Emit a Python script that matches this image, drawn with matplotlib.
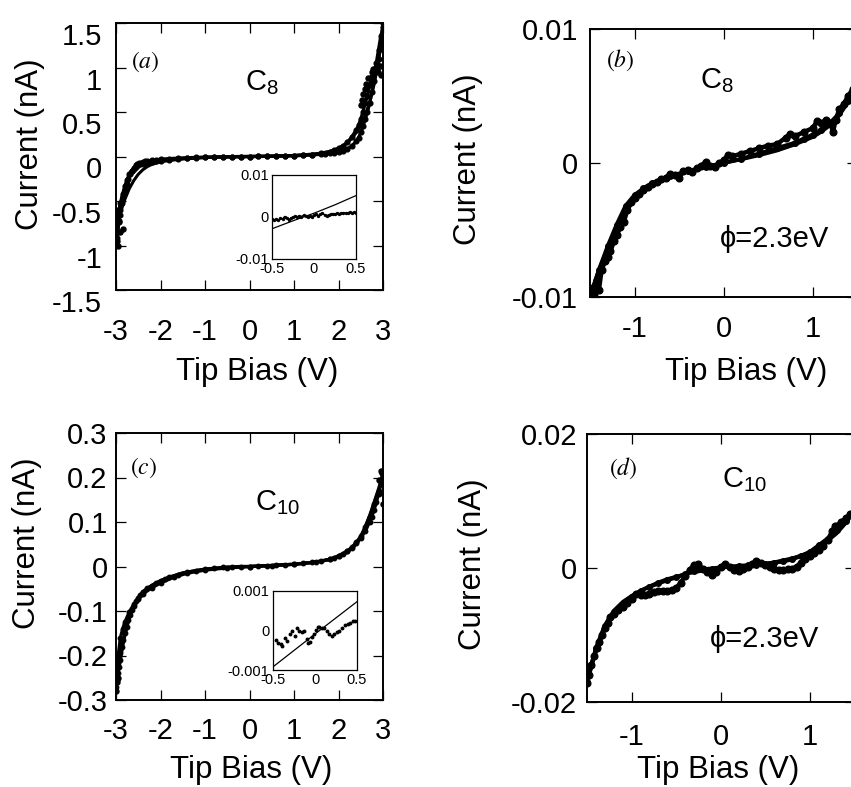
import matplotlib
matplotlib.use("Agg")
import matplotlib.pyplot as plt
import numpy as np

plt.rcParams['font.family'] = ['Liberation Sans', 'DejaVu Sans']
plt.rcParams['axes.unicode_minus'] = False
plt.rcParams['mathtext.fontset'] = 'custom'
plt.rcParams['mathtext.rm'] = 'Liberation Sans'
plt.rcParams['mathtext.it'] = 'Liberation Sans:italic'

# ---------------- data ----------------
# Panel (a): C8, full range, current in nA
a_fit_x = [-3.0, -2.95, -2.9, -2.8, -2.7, -2.6, -2.5, -2.4, -2.3, -2.2, -2.0, -1.8, -1.5, -1.0, -0.5,
           0.0, 0.5, 1.0, 1.5, 1.8, 2.0, 2.1, 2.2, 2.3, 2.4, 2.5, 2.6, 2.7, 2.8, 2.9, 3.0]
a_fit_y = [-0.86, -0.72, -0.63, -0.48, -0.36, -0.27, -0.2, -0.15, -0.115, -0.09, -0.06, -0.045, -0.028,
           -0.012, -0.004, 0.0, 0.004, 0.012, 0.03, 0.055, 0.085, 0.115, 0.155, 0.205, 0.27, 0.35, 0.46,
           0.61, 0.81, 1.07, 1.45]
a_d1_x = [-3.0, -2.98, -2.96, -2.94, -2.92, -2.9, -2.87, -2.84, -2.8, -2.76, -2.72, -2.68, -2.64, -2.6,
          -2.56, -2.52, -2.48, -2.44, -2.4, -2.35, -2.3, -2.2, -2.1, -2.0, -1.8, -1.6, -1.4, -1.2, -1.0,
          -0.8, -0.6, -0.4, -0.2, 0.0, 0.2, 0.4, 0.6, 0.8, 1.0, 1.2, 1.4, 1.6, 1.7, 1.8, 1.9, 2.0, 2.1,
          2.2, 2.3, 2.4, 2.45, 2.5, 2.55, 2.6, 2.65, 2.7, 2.75, 2.8, 2.85, 2.9, 2.95, 3.0]
a_d1_y = [-0.78, -0.92, -0.85, -0.74, -0.66, -0.6, -0.52, -0.45, -0.38, -0.31, -0.25, -0.2, -0.16, -0.13,
          -0.1, -0.085, -0.075, -0.068, -0.062, -0.055, -0.05, -0.042, -0.036, -0.031, -0.024, -0.019,
          -0.014, -0.011, -0.008, -0.006, -0.004, -0.002, -0.001, 0.0, 0.001, 0.003, 0.005, 0.007, 0.01,
          0.013, 0.018, 0.025, 0.03, 0.036, 0.043, 0.05, 0.065, 0.085, 0.12, 0.17, 0.21, 0.27, 0.34,
          0.42, 0.5, 0.6, 0.72, 0.85, 0.98, 1.1, 1.25, 1.5]
a_d2_x = [3.0, 2.95, 2.9, 2.85, 2.8, 2.75, 2.7, 2.65, 2.6, 2.55, 2.5, 2.45, 2.4, 2.3, 2.2, 2.1, 2.0, 1.9,
          1.8, 1.6, 1.4, 1.2, 1.0, 0.8, 0.6, 0.4, 0.2, 0.0, -0.2, -0.4, -0.6, -0.8, -1.0, -1.2, -1.4,
          -1.6, -1.8, -2.0, -2.1, -2.2, -2.3, -2.4, -2.45, -2.5, -2.55, -2.6, -2.65, -2.7, -2.75, -2.8,
          -2.85, -2.9, -2.95, -3.0]
a_d2_y = [1.45, 1.35, 1.2, 1.05, 0.95, 0.9, 0.8, 0.68, 0.6, 0.5, 0.42, 0.35, 0.3, 0.22, 0.16, 0.12,
          0.095, 0.07, 0.055, 0.035, 0.022, 0.014, 0.009, 0.006, 0.004, 0.002, 0.001, 0.0, -0.001, -0.003,
          -0.005, -0.007, -0.01, -0.014, -0.019, -0.026, -0.034, -0.045, -0.052, -0.06, -0.07, -0.08,
          -0.085, -0.1, -0.12, -0.14, -0.16, -0.2, -0.26, -0.33, -0.42, -0.52, -0.64, -0.8]
a_sc_x = [-2.99, -2.97, -2.96, -2.93, -2.9, -2.84, 2.5, 2.53, 2.56, 2.59, 2.62, 2.66, 2.75, 2.78, 2.85,
          2.88, 2.9, 2.93, 2.95, 2.97, 2.99]
a_sc_y = [-0.6, -0.95, -1.0, -0.72, -0.85, -0.82, 0.58, 0.64, 0.7, 0.76, 0.82, 0.88, 0.95, 0.98, 1.0,
          0.95, 1.02, 1.02, 0.92, 1.25, 1.3]

# Inset of (a): low bias, current in pA
ia_x = [-0.5, -0.475, -0.45, -0.425, -0.4, -0.375, -0.35, -0.325, -0.3, -0.275, -0.25, -0.225, -0.2,
        -0.175, -0.15, -0.125, -0.1, -0.075, -0.05, -0.025, 0.0, 0.025, 0.05, 0.075, 0.1, 0.125, 0.15,
        0.175, 0.2, 0.225, 0.25, 0.275, 0.3, 0.325, 0.35, 0.375, 0.4, 0.425, 0.45, 0.475, 0.5]
ia_y_pA = [-0.4, -0.7, -0.5, -0.8, -0.3, -0.5, 0.1, -0.2, -0.6, -0.3, 0.0, 0.2, 0.0, 0.3, 0.1, 0.4, 0.2,
           0.0, 0.3, 0.1, 0.4, 0.7, 0.3, 0.6, 0.9, 0.5, 0.3, 0.5, 0.7, 0.8, 0.7, 0.9, 0.8, 0.9, 1.0,
           0.9, 1.0, 1.1, 1.0, 1.1, 1.0]
ia_fit_x = [-0.5, -0.25, 0.0, 0.25, 0.5]
ia_fit_y_pA = [-2.8, -0.9, 0.9, 2.9, 5.1]

# Panel (b): C8, +-1.5 V, current in pA
b_fit_x = [-1.5, -1.4, -1.3, -1.2, -1.1, -1.0, -0.9, -0.8, -0.6, -0.4, -0.2, 0.0, 0.2, 0.4, 0.6, 0.8,
           1.0, 1.1, 1.2, 1.3, 1.4, 1.5]
b_fit_y_pA = [-9.9, -7.9, -6.3, -4.9, -3.7, -2.8, -2.2, -1.7, -1.1, -0.6, -0.25, 0.0, 0.25, 0.55, 0.9,
              1.35, 1.9, 2.3, 2.8, 3.5, 4.5, 5.8]
b_d1_x = [-1.50, -1.47, -1.45, -1.42, -1.40, -1.37, -1.33, -1.30, -1.27, -1.23, -1.20, -1.16, -1.12,
          -1.08, -1.04, -1.00, -0.95, -0.90, -0.85, -0.80, -0.75, -0.70, -0.65, -0.60, -0.55, -0.50,
          -0.45, -0.40, -0.35, -0.30, -0.25, -0.20, -0.15, -0.10, -0.05, 0.00, 0.05, 0.10, 0.20, 0.30,
          0.40, 0.50, 0.60, 0.70, 0.75, 0.80, 0.90, 1.00, 1.05, 1.10, 1.15, 1.20, 1.23, 1.26, 1.30,
          1.35, 1.40, 1.45, 1.50]
b_d1_y_pA = [-9.9, -9.3, -9.8, -8.7, -9.5, -8.0, -7.3, -7.0, -6.6, -5.8, -5.4, -4.8, -4.4, -3.5, -2.9,
             -2.6, -2.3, -2.0, -1.8, -1.6, -1.4, -1.2, -1.1, -0.8, -0.9, -1.1, -0.6, -0.5, -0.7, -0.4,
             -0.2, 0.1, -0.2, -0.3, 0.0, 0.2, 0.6, 0.5, 0.7, 0.9, 1.1, 1.3, 1.4, 1.9, 2.2, 2.0, 2.3,
             2.6, 3.1, 3.0, 3.2, 3.0, 2.3, 3.2, 4.0, 4.4, 5.0, 5.5, 6.0]
b_d2_x = [1.50, 1.40, 1.30, 1.20, 1.10, 1.00, 0.90, 0.80, 0.60, 0.40, 0.20, 0.00, -0.20, -0.40, -0.60,
          -0.80, -0.90, -1.00, -1.10, -1.20, -1.30, -1.40, -1.46, -1.50]
b_d2_y_pA = [5.6, 4.6, 3.7, 3.0, 2.5, 2.1, 1.8, 1.5, 1.1, 0.7, 0.3, 0.0, -0.3, -0.6, -1.0, -1.5, -1.9,
             -2.4, -3.2, -4.6, -6.2, -8.0, -9.2, -10.0]

# Panel (c): C10, full range, current in nA
c_fit_x = [-3.0, -2.95, -2.9, -2.85, -2.8, -2.7, -2.6, -2.5, -2.4, -2.2, -2.0, -1.8, -1.5, -1.0, -0.5,
           0.0, 0.5, 1.0, 1.5, 1.8, 2.0, 2.2, 2.4, 2.5, 2.6, 2.7, 2.8, 2.9, 3.0]
c_fit_y = [-0.275, -0.24, -0.21, -0.18, -0.155, -0.115, -0.09, -0.072, -0.06, -0.043, -0.032, -0.024,
           -0.014, -0.006, -0.002, 0.0, 0.002, 0.005, 0.01, 0.016, 0.022, 0.032, 0.05, 0.065, 0.09,
           0.115, 0.145, 0.175, 0.21]
c_d1_x = [-3.0, -2.98, -2.96, -2.94, -2.92, -2.9, -2.87, -2.84, -2.8, -2.76, -2.72, -2.68, -2.64, -2.6,
          -2.55, -2.5, -2.45, -2.4, -2.3, -2.2, -2.1, -2.0, -1.9, -1.8, -1.6, -1.4, -1.2, -1.0, -0.8,
          -0.6, -0.4, -0.2, 0.0, 0.2, 0.4, 0.6, 0.8, 1.0, 1.2, 1.4, 1.6, 1.8, 1.9, 2.0, 2.1, 2.2, 2.3,
          2.4, 2.5, 2.6, 2.7, 2.75, 2.8, 2.85, 2.9, 2.95, 3.0]
c_d1_y = [-0.27, -0.255, -0.24, -0.225, -0.21, -0.195, -0.18, -0.165, -0.15, -0.135, -0.12, -0.108,
          -0.098, -0.088, -0.078, -0.07, -0.063, -0.057, -0.049, -0.043, -0.037, -0.032, -0.028,
          -0.024, -0.018, -0.013, -0.009, -0.006, -0.004, -0.002, -0.001, 0.0, 0.0, 0.001, 0.002,
          0.003, 0.004, 0.005, 0.007, 0.009, 0.012, 0.016, 0.019, 0.023, 0.028, 0.034, 0.042, 0.052,
          0.064, 0.08, 0.1, 0.112, 0.128, 0.145, 0.163, 0.185, 0.205]
c_d2_x = [3.0, 2.9, 2.8, 2.7, 2.6, 2.5, 2.4, 2.3, 2.2, 2.0, 1.8, 1.5, 1.0, 0.5, 0.0, -0.5, -1.0, -1.4,
          -1.7, -2.0, -2.2, -2.4, -2.5, -2.6, -2.7, -2.8, -2.85, -2.9, -2.95, -3.0]
c_d2_y = [0.2, 0.17, 0.14, 0.112, 0.088, 0.068, 0.054, 0.043, 0.035, 0.024, 0.016, 0.01, 0.005, 0.002,
          0.0, -0.003, -0.008, -0.015, -0.024, -0.037, -0.048, -0.062, -0.072, -0.085, -0.102, -0.125,
          -0.14, -0.16, -0.2, -0.25]
c_sc_x = [-3.0, -2.97, -2.95, 2.92, 2.95, 2.97, 3.0, 3.0]
c_sc_y = [-0.28, -0.26, -0.25, 0.195, 0.215, 0.21, 0.19, 0.14]

# Inset of (c): low bias, current in pA
ic_x = [-0.46, -0.44, -0.41, -0.39, -0.36, -0.33, -0.30, -0.27, -0.24, -0.22, -0.19, -0.16, -0.13,
        -0.10, -0.08, -0.06, -0.03, -0.01, 0.01, 0.03, 0.05, 0.08, 0.11, 0.14, 0.17, 0.20, 0.23, 0.26,
        0.29, 0.32, 0.36, 0.39, 0.42, 0.45, 0.48]
ic_y_pA = [-0.25, -0.32, -0.34, -0.38, -0.20, -0.26, -0.09, 0.00, -0.15, 0.07, -0.02, -0.04, -0.02,
           -0.21, -0.32, -0.28, -0.17, -0.09, 0.02, 0.08, 0.10, 0.07, 0.07, -0.02, -0.10, -0.15, -0.09,
           -0.04, 0.00, 0.07, 0.13, 0.17, 0.19, 0.24, 0.25]
ic_fit_x = [-0.5, 0.0, 0.5]
ic_fit_y_pA = [-0.92, -0.09, 0.73]

# Panel (d): C10, +-1.5 V, current in pA
d_fit_x = [-1.5, -1.45, -1.4, -1.35, -1.3, -1.25, -1.2, -1.1, -1.0, -0.9, -0.8, -0.7, -0.6, -0.4, -0.2,
           0.0, 0.2, 0.4, 0.6, 0.8, 0.9, 1.0, 1.1, 1.2, 1.3, 1.4, 1.5]
d_fit_y_pA = [-17.0, -14.2, -12.0, -10.2, -8.6, -7.3, -6.3, -5.0, -4.1, -3.4, -2.7, -2.1, -1.6, -0.9,
              -0.45, 0.0, 0.25, 0.5, 0.9, 1.5, 1.9, 2.4, 3.1, 4.0, 5.1, 6.6, 8.5]
d_d1_x = [-1.50, -1.48, -1.45, -1.42, -1.39, -1.36, -1.33, -1.30, -1.27, -1.24, -1.20, -1.15, -1.10,
          -1.05, -1.00, -0.95, -0.90, -0.85, -0.80, -0.75, -0.70, -0.65, -0.60, -0.55, -0.50, -0.45,
          -0.40, -0.35, -0.30, -0.25, -0.20, -0.15, -0.10, -0.05, 0.00, 0.05, 0.10, 0.15, 0.20, 0.25,
          0.30, 0.35, 0.40, 0.45, 0.50, 0.55, 0.60, 0.65, 0.70, 0.75, 0.80, 0.85, 0.90, 0.95, 1.00,
          1.05, 1.10, 1.15, 1.20, 1.25, 1.28, 1.30, 1.35, 1.40, 1.45, 1.50]
d_d1_y_pA = [-17.2, -16.0, -14.5, -13.2, -12.0, -11.0, -10.0, -9.0, -8.2, -7.3,
             -6.8, -6.3, -5.8, -5.2, -4.6, -3.9, -4.0, -4.0, -3.9, -3.6,
             -3.5, -3.4, -3.4, -3.3, -3.0, -2.2, -1.2, -0.3, 0.5, 0.6,
             -0.2, -0.6, -1.0, -0.6, 0.2, 0.6, 0.2, -0.3, -0.5, -0.2,
             0.2, 0.6, 1.1, 0.8, 0.4, 0.1, -0.2, -0.3, -0.3, -0.2,
             -0.1, 0.2, 0.8, 1.4, 1.8, 2.2, 2.7, 3.3, 4.2, 5.5,
             6.3, 6.2, 6.9, 7.4, 8.0, 8.6]
d_d2_x = [1.5, 1.4, 1.3, 1.2, 1.1, 1.0, 0.9, 0.8, 0.7, 0.6, 0.5, 0.4, 0.3, 0.2, 0.1, 0.0, -0.1, -0.2,
          -0.3, -0.4, -0.5, -0.6, -0.7, -0.8, -0.9, -1.0, -1.1, -1.2, -1.3, -1.4, -1.5]
d_d2_y_pA = [8.4, 7.0, 5.6, 4.4, 3.4, 2.4, 1.8, 1.3, 1.0, 0.8, 0.6, 0.5, 0.4, 0.3, 0.2, 0.1, -0.1, -0.2,
             -0.4, -0.9, -1.4, -1.8, -2.3, -2.8, -3.4, -4.3, -5.3, -6.6, -8.6, -12.0, -17.0]

# tick labels
full_xticks = [-3, -2, -1, 0, 1, 2, 3]
full_xlabels = ['-3', '-2', '-1', '0', '1', '2', '3']
zoom_xticks = [-1, 0, 1]
zoom_xlabels = ['-1', '0', '1']
a_yticks = [-1.5, -1, -0.5, 0, 0.5, 1, 1.5]
a_ylabels = ['-1.5', '-1', '-0.5', '0', '0.5', '1', '1.5']
b_yticks = [-0.01, 0, 0.01]
b_ylabels = ['-0.01', '0', '0.01']
c_yticks = [-0.3, -0.2, -0.1, 0, 0.1, 0.2, 0.3]
c_ylabels = ['-0.3', '-0.2', '-0.1', '0', '0.1', '0.2', '0.3']
d_yticks = [-0.02, 0, 0.02]
d_ylabels = ['-0.02', '0', '0.02']
ins_xticks = [-0.5, 0, 0.5]
ins_xlabels = ['-0.5', '0', '0.5']
ia_yticks = [-0.01, 0, 0.01]
ia_ylabels = ['-0.01', '0', '0.01']
ic_yticks = [-0.001, 0, 0.001]
ic_ylabels = ['-0.001', '0', '0.001']

PA = 1e-3  # pA -> nA

# ---------------- figure ----------------
W, H = 851, 787
fig = plt.figure(figsize=(W / 100, H / 100), dpi=100)


def box(x0, y0, x1, y1):
    return [x0 / W, 1 - y1 / H, (x1 - x0) / W, (y1 - y0) / H]


def ftext(x, y, s, **kw):
    return fig.text(x / W, 1 - y / H, s, **kw)


ax_a = fig.add_axes(box(116, 23, 383, 290))
ax_b = fig.add_axes(box(590, 29, 857, 297))
ax_c = fig.add_axes(box(116, 433, 383, 700))
ax_d = fig.add_axes(box(587, 434, 854.5, 702))

TICK_FS = 21
LAB_FS = 22.5


def style(ax, xlim, ylim, xt, xl, yt, yl, xpad, ypad):
    ax.set_xlim(*xlim)
    ax.set_ylim(*ylim)
    ax.set_xticks(xt)
    ax.set_xticklabels(xl)
    ax.set_yticks(yt)
    ax.set_yticklabels(yl)
    ax.tick_params(direction='in', length=7.5, width=0.9, top=True, right=True,
                   labelsize=TICK_FS, colors='black')
    ax.tick_params(axis='x', pad=xpad)
    ax.tick_params(axis='y', pad=ypad)
    for s in ax.spines.values():
        s.set_linewidth(1.4)
    ax.set_xlabel('Tip Bias (V)', fontsize=LAB_FS)
    ax.set_ylabel('Current (nA)', fontsize=LAB_FS)


def place_labels(ax, ylab_xy, xlab_xy, axbox):
    x0, y0, x1, y1 = axbox
    ax.yaxis.set_label_coords((ylab_xy[0] - x0) / (x1 - x0), (y1 - ylab_xy[1]) / (y1 - y0))
    ax.yaxis.label.set_verticalalignment('center')
    ax.xaxis.set_label_coords((xlab_xy[0] - x0) / (x1 - x0), (y1 - xlab_xy[1]) / (y1 - y0))
    ax.xaxis.label.set_verticalalignment('center')


# ---- (a)
ax = ax_a
ax.plot(a_d1_x, a_d1_y, '-o', color='black', lw=2.4, ms=3.4)
ax.plot(a_d2_x, a_d2_y, '-o', color='black', lw=2.4, ms=3.4)
ax.plot(a_sc_x, a_sc_y, 'o', color='black', ms=3.6)
ax.plot(a_fit_x, a_fit_y, '-', color='black', lw=2.2)
style(ax, (-3, 3), (-1.5, 1.5), full_xticks, full_xlabels, a_yticks, a_ylabels, 20, 10)
for t in ax.get_yticklabels():
    t.set_verticalalignment('top')
place_labels(ax, (30, 144), (257, 372), (116, 23, 383, 290))

# ---- (b)
ax = ax_b
ax.plot(b_d1_x, np.asarray(b_d1_y_pA) * PA, '-o', color='black', lw=3.2, ms=4.8)
ax.plot(b_d2_x, np.asarray(b_d2_y_pA) * PA, '-o', color='black', lw=3.0, ms=4.0)
ax.plot(b_fit_x, np.asarray(b_fit_y_pA) * PA, '-', color='black', lw=2.2)
style(ax, (-1.5, 1.5), (-0.01, 0.01), zoom_xticks, zoom_xlabels, b_yticks, b_ylabels, 13, 8.5)
place_labels(ax, (468, 159), (746, 372), (590, 29, 857, 297))

# ---- (c)
ax = ax_c
ax.plot(c_d1_x, c_d1_y, '-o', color='black', lw=2.4, ms=3.2)
ax.plot(c_d2_x, c_d2_y, '-o', color='black', lw=2.4, ms=3.2)
ax.plot(c_sc_x, c_sc_y, 'o', color='black', ms=3.6)
ax.plot(c_fit_x, c_fit_y, '-', color='black', lw=2.2)
style(ax, (-3, 3), (-0.3, 0.3), full_xticks, full_xlabels, c_yticks, c_ylabels, 12, 6)
place_labels(ax, (27, 543), (251, 770), (116, 433, 383, 700))

# ---- (d)
ax = ax_d
ax.plot(d_d1_x, np.asarray(d_d1_y_pA) * PA, '-o', color='black', lw=3.2, ms=4.8)
ax.plot(d_d2_x, np.asarray(d_d2_y_pA) * PA, '-o', color='black', lw=3.0, ms=4.0)
ax.plot(d_fit_x, np.asarray(d_fit_y_pA) * PA, '-', color='black', lw=2.2)
style(ax, (-1.5, 1.5), (-0.02, 0.02), zoom_xticks, zoom_xlabels, d_yticks, d_ylabels, 15, 7)
place_labels(ax, (473, 564), (718, 770), (587, 434, 854.5, 702))


# ---- insets
def style_inset(ax, ylim, yt, yl):
    ax.set_xlim(-0.5, 0.5)
    ax.set_ylim(*ylim)
    ax.set_xticks(ins_xticks)
    ax.set_xticklabels(ins_xlabels)
    ax.set_yticks(yt)
    ax.set_yticklabels(yl)
    ax.tick_params(length=0, labelsize=10.5, pad=2.5, colors='black')
    for s in ax.spines.values():
        s.set_linewidth(0.9)


ins_a = fig.add_axes(box(272, 175, 356, 259))
ins_a.plot(ia_x, np.asarray(ia_y_pA) * PA, '-o', color='black', lw=1.1, ms=1.4)
ins_a.plot(ia_fit_x, np.asarray(ia_fit_y_pA) * PA, '-', color='black', lw=0.9)
style_inset(ins_a, (-0.01, 0.01), ia_yticks, ia_ylabels)

ins_c = fig.add_axes(box(273, 591, 357, 670))
ins_c.plot(ic_x, np.asarray(ic_y_pA) * PA, 'o', color='black', ms=1.8)
ins_c.plot(ic_fit_x, np.asarray(ic_fit_y_pA) * PA, '-', color='black', lw=0.9)
style_inset(ins_c, (-0.001, 0.001), ic_yticks, ic_ylabels)

# ---- annotations
PANEL_FS = 17
ftext(145, 62, r'$(a)$', fontsize=PANEL_FS, ha='center', va='center', math_fontfamily='stix')
ftext(620, 60, r'$(b)$', fontsize=PANEL_FS, ha='center', va='center', math_fontfamily='stix')
ftext(144, 468, r'$(c)$', fontsize=PANEL_FS, ha='center', va='center', math_fontfamily='stix')
ftext(623, 468, r'$(d)$', fontsize=PANEL_FS, ha='center', va='center', math_fontfamily='stix')

ftext(245, 90, r'$\mathregular{C_8}$', fontsize=TICK_FS, ha='left', va='baseline')
ftext(700, 88, r'$\mathregular{C_8}$', fontsize=TICK_FS, ha='left', va='baseline')
ftext(255, 510, r'$\mathregular{C_{10}}$', fontsize=TICK_FS, ha='left', va='baseline')
ftext(722, 487, r'$\mathregular{C_{10}}$', fontsize=TICK_FS, ha='left', va='baseline')

ftext(720, 247, '\u03d5=2.3eV', fontsize=TICK_FS, ha='left', va='baseline')
ftext(710, 647, '\u03d5=2.3eV', fontsize=TICK_FS, ha='left', va='baseline')

fig.savefig('out.png', dpi=100)
